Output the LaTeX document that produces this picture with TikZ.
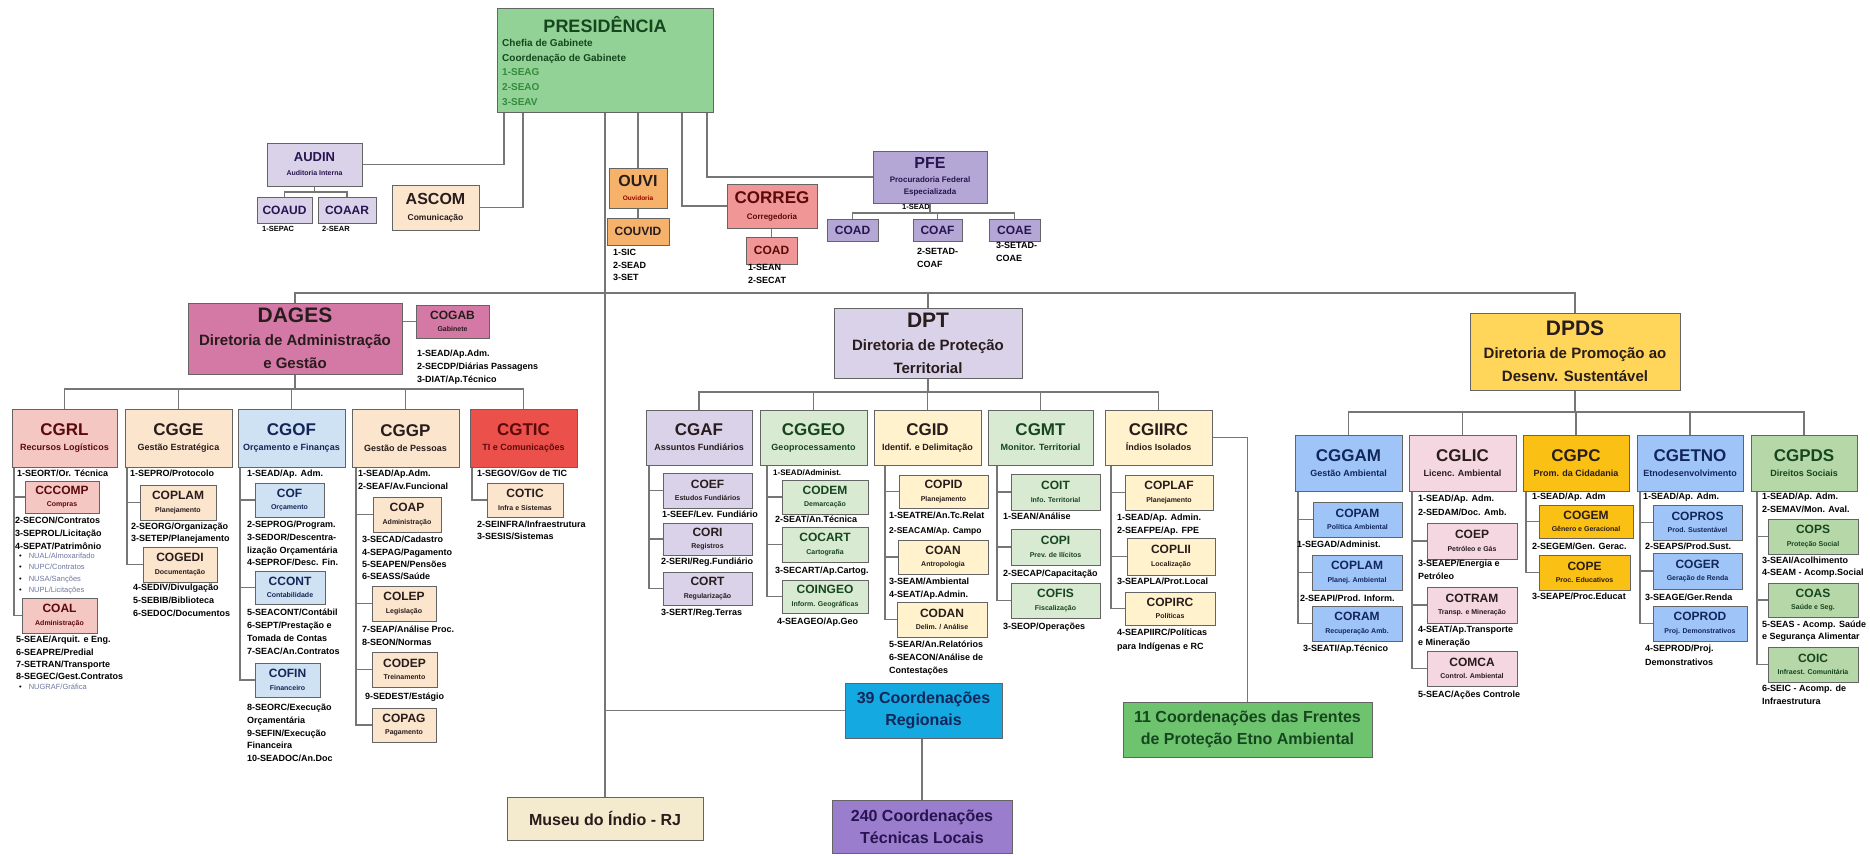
\documentclass[tikz,border=0pt]{standalone}
\usepackage{fontspec}
\setmainfont{Liberation Sans}
\usetikzlibrary{backgrounds}
\definecolor{ln}{RGB}{118,118,118}
\definecolor{bd}{RGB}{100,100,100}
\definecolor{fPres}{RGB}{147,210,150}
\definecolor{fLav}{RGB}{217,210,233}
\definecolor{fCream}{RGB}{252,229,205}
\definecolor{fOuvi}{RGB}{246,178,107}
\definecolor{fCorreg}{RGB}{240,150,150}
\definecolor{fPfe}{RGB}{180,167,214}
\definecolor{fDages}{RGB}{212,120,165}
\definecolor{fSalmon}{RGB}{244,199,195}
\definecolor{fLBlue}{RGB}{207,226,243}
\definecolor{fRed}{RGB}{236,80,75}
\definecolor{fLGreen}{RGB}{217,234,211}
\definecolor{fLYellow}{RGB}{255,242,204}
\definecolor{fDpds}{RGB}{255,214,90}
\definecolor{fBlue}{RGB}{159,197,248}
\definecolor{fPink}{RGB}{244,215,225}
\definecolor{fGold}{RGB}{250,192,20}
\definecolor{fGreen}{RGB}{182,215,168}
\definecolor{fMuseu}{RGB}{244,234,205}
\definecolor{fCtt}{RGB}{20,170,225}
\definecolor{fCtf}{RGB}{155,125,205}
\definecolor{fCel}{RGB}{110,195,110}
\definecolor{tDk}{RGB}{40,28,28}
\definecolor{tNv}{RGB}{18,38,90}
\definecolor{tGr}{RGB}{22,70,30}
\definecolor{pGr}{RGB}{50,140,60}
\definecolor{tRd}{RGB}{90,10,10}
\definecolor{tPu}{RGB}{40,20,80}
\definecolor{bul}{RGB}{110,120,160}
\newcommand\Tmid[1]{{\fontsize{17}{17}\selectfont #1}}
\newcommand\Tsm[1]{{\fontsize{12}{12}\selectfont #1}}
\newcommand\Tdir[1]{{\fontsize{21}{21}\selectfont #1}}
\newcommand\obox[7]{\node[#6,minimum width={(#4-#2)*1pt},minimum height={(#5-#3)*1pt}] (#1) at ({(#2+#4)/2},{(#3+#5)/2}) {#7};}
\newcommand\bl{{\color{black}•}\hspace{7pt}}
\begin{document}
\begin{tikzpicture}[x=1pt,y=-1pt,
  box/.style={draw=bd,line width=1pt,inner sep=0pt,align=center,text=tDk},
  L2/.style={box,font=\bfseries\fontsize{9}{15}\selectfont},
  L3/.style={box,font=\bfseries\fontsize{7}{12.5}\selectfont},
  DIR/.style={box,font=\bfseries\fontsize{15}{23}\selectfont},
  BOT/.style={box,font=\bfseries\fontsize{16}{22}\selectfont},
  lst/.style={anchor=north west,inner sep=0pt,align=left,font=\bfseries\fontsize{9}{12.7}\selectfont,text=black},
  con/.style={draw=ln,line width=1.5pt}]
\useasboundingbox (0,0) rectangle (1870,855);

\coordinate (pa) at (504,0);
\coordinate (pb) at (523,0);
\coordinate (pc) at (682,0);
\coordinate (pd) at (707,0);
\coordinate (ba) at (0,192);
\coordinate (bp) at (0,213);
\coordinate (bm) at (0,293);
\coordinate (bD) at (0,389);
\coordinate (bT) at (0,392);
\coordinate (bS) at (0,412);

% ---------- top ----------
\obox{pres}{497}{8}{713}{112}{box,fill=fPres}{}
\node[font=\bfseries\fontsize{18}{18}\selectfont,text=tGr,inner sep=0pt] (prest) at (605,25) {PRESIDÊNCIA};
\node[lst,font=\bfseries\fontsize{10}{14.7}\selectfont,text=tGr] (presl) at (502,39) {Chefia de Gabinete\\Coordenação de Gabinete\\{\color{pGr}1-SEAG}\\{\color{pGr}2-SEAO}\\{\color{pGr}3-SEAV}};

\obox{audin}{267}{143}{362}{186}{L3,fill=fLav,text=tPu,font=\bfseries\fontsize{7}{14}\selectfont}{{\fontsize{13}{13}\selectfont AUDIN}\\Auditoria Interna}
\obox{coaud}{257}{197}{312}{223}{L3,fill=fLav,text=tPu}{\Tsm{COAUD}}
\obox{coaar}{318}{197}{376}{223}{L3,fill=fLav,text=tPu}{\Tsm{COAAR}}
\node[lst,font=\bfseries\fontsize{7.5}{10}\selectfont] (laudA) at (262,226) {1-SEPAC};
\node[lst,font=\bfseries\fontsize{7.5}{10}\selectfont] (laudB) at (322,226) {2-SEAR};
\obox{ascom}{392}{185}{479}{230}{L3,fill=fCream,font=\bfseries\fontsize{8.5}{16}\selectfont}{{\fontsize{16}{16}\selectfont ASCOM}\\Comunicação}

\obox{ouvi}{609}{168}{667}{208}{L3,fill=fOuvi,font=\bfseries\fontsize{6.5}{14}\selectfont}{{\fontsize{16}{16}\selectfont OUVI}\\{\color{red!60!black}Ouvidoria}}
\obox{couvid}{607}{218}{669}{245}{L3,fill=fOuvi}{\Tsm{COUVID}}
\node[lst] (louvi) at (613,249) {1-SIC\\2-SEAD\\3-SET};

\obox{correg}{727}{184}{817}{228}{L3,fill=fCorreg,text=tRd,font=\bfseries\fontsize{8}{16}\selectfont}{{\fontsize{17}{17}\selectfont CORREG}\\Corregedoria}
\obox{coadc}{746}{237}{797}{264}{L3,fill=fCorreg,text=tRd}{\Tsm{COAD}}
\node[lst] (lcorreg) at (748,264) {1-SEAN\\2-SECAT};

\obox{pfe}{873}{151}{987}{203}{L3,fill=fPfe,text=tPu,font=\bfseries\fontsize{8}{12}\selectfont}{{\fontsize{16}{16}\selectfont PFE}\\[2pt]Procuradoria Federal\\Especializada}
\obox{coadp}{827}{219}{878}{241}{L3,fill=fPfe,text=tPu}{\Tsm{COAD}}
\obox{coafp}{913}{219}{962}{241}{L3,fill=fPfe,text=tPu}{\Tsm{COAF}}
\obox{coaep}{989}{219}{1040}{241}{L3,fill=fPfe,text=tPu}{\Tsm{COAE}}
\node[lst,font=\bfseries\fontsize{7.5}{10}\selectfont] (lpfe) at (902,204) {1-SEAD};
\node[lst] (lcoaf) at (917,248) {2-SETAD-\\COAF};
\node[lst] (lcoae) at (996,242) {3-SETAD-\\COAE};

% ---------- DAGES ----------
\obox{dages}{188}{303}{402}{374}{DIR,fill=fDages}{\Tdir{DAGES}\\Diretoria de Administração\\e Gestão}
\obox{cogab}{416}{305}{489}{338}{L3,fill=fDages}{\Tsm{COGAB}\\Gabinete}
\node[lst] (lcogab) at (417,350) {1-SEAD/Ap.Adm.\\2-SECDP/Diárias Passagens\\3-DIAT/Ap.Técnico};

\obox{cgrl}{12}{409}{117}{467}{L2,fill=fSalmon,text=tRd}{\Tmid{CGRL}\\Recursos Logísticos}
\obox{cgge}{125}{409}{232}{467}{L2,fill=fCream}{\Tmid{CGGE}\\Gestão Estratégica}
\obox{cgof}{238}{409}{345}{467}{L2,fill=fLBlue,text=tNv}{\Tmid{CGOF}\\Orçamento e Finanças}
\obox{cggp}{352}{409}{459}{467}{L2,fill=fCream}{\Tmid{CGGP}\\Gestão de Pessoas}
\obox{cgtic}{470}{409}{577}{467}{L2,fill=fRed,text=tRd}{\Tmid{CGTIC}\\TI e Comunicações}

\obox{cccomp}{25}{481}{99}{513}{L3,fill=fSalmon,text=tRd}{\Tsm{CCCOMP}\\Compras}
\obox{coal}{22}{598}{97}{633}{L3,fill=fSalmon,text=tRd}{\Tsm{COAL}\\Administração}
\node[lst] (lrlA) at (17,470) {1-SEORT/Or. Técnica};
\node[lst] (lrlB) at (15,517) {2-SECON/Contratos\\3-SEPROL/Licitação\\4-SEPAT/Patrimônio};
\node[lst,font=\fontsize{7.5}{11.3}\selectfont,text=bul] (lrlC) at (19,553) {\bl NUAL/Almoxarifado\\\bl NUPC/Contratos\\\bl NUSA/Sanções\\\bl NUPL/Licitações};
\node[lst,font=\bfseries\fontsize{9}{12.3}\selectfont] (lrlD) at (16,636) {5-SEAE/Arquit. e Eng.\\6-SEAPRE/Predial\\7-SETRAN/Transporte\\8-SEGEC/Gest.Contratos};
\node[lst,font=\fontsize{7.5}{11.3}\selectfont,text=bul] (lrlE) at (19,684) {\bl NUGRAF/Gráfica};

\obox{coplam}{140}{485}{216}{520}{L3,fill=fCream}{\Tsm{COPLAM}\\Planejamento}
\obox{cogedi}{143}{547}{217}{582}{L3,fill=fCream}{\Tsm{COGEDI}\\Documentação}
\node[lst] (lggA) at (130,470) {1-SEPRO/Protocolo};
\node[lst,font=\bfseries\fontsize{9}{12}\selectfont] (lggB) at (131,523) {2-SEORG/Organização\\3-SETEP/Planejamento};
\node[lst] (lggC) at (133,584) {4-SEDIV/Divulgação\\5-SEBIB/Biblioteca\\6-SEDOC/Documentos};

\obox{cof}{255}{483}{324}{517}{L3,fill=fLBlue,text=tNv}{\Tsm{COF}\\Orçamento}
\obox{ccont}{255}{571}{325}{604}{L3,fill=fLBlue,text=tNv}{\Tsm{CCONT}\\Contabilidade}
\obox{cofin}{255}{663}{320}{697}{L3,fill=fLBlue,text=tNv}{\Tsm{COFIN}\\Financeiro}
\node[lst] (lofA) at (247,470) {1-SEAD/Ap. Adm.};
\node[lst] (lofB) at (247,521) {2-SEPROG/Program.\\3-SEDOR/Descentra-\\lização Orçamentária\\4-SEPROF/Desc. Fin.};
\node[lst,font=\bfseries\fontsize{9}{13}\selectfont] (lofC) at (247,609) {5-SEACONT/Contábil\\6-SEPT/Prestação e\\Tomada de Contas\\7-SEAC/An.Contratos};
\node[lst] (lofD) at (247,704) {8-SEORC/Execução\\Orçamentária\\9-SEFIN/Execução\\Financeira\\10-SEADOC/An.Doc};

\obox{coap}{373}{497}{441}{532}{L3,fill=fCream}{\Tsm{COAP}\\Administração}
\obox{colep}{372}{586}{436}{621}{L3,fill=fCream}{\Tsm{COLEP}\\Legislação}
\obox{codep}{372}{652}{437}{687}{L3,fill=fCream}{\Tsm{CODEP}\\Treinamento}
\obox{copag}{372}{708}{436}{742}{L3,fill=fCream}{\Tsm{COPAG}\\Pagamento}
\node[lst,font=\bfseries\fontsize{9}{13}\selectfont] (lgpA) at (358,470) {1-SEAD/Ap.Adm.\\2-SEAF/Av.Funcional};
\node[lst,font=\bfseries\fontsize{9}{12.4}\selectfont] (lgpB) at (362,536) {3-SECAD/Cadastro\\4-SEPAG/Pagamento\\5-SEAPEN/Pensões\\6-SEASS/Saúde};
\node[lst,font=\bfseries\fontsize{9}{13}\selectfont] (lgpC) at (362,626) {7-SEAP/Análise Proc.\\8-SEON/Normas};
\node[lst] (lgpD) at (365,693) {9-SEDEST/Estágio};

\obox{cotic}{487}{483}{563}{517}{L3,fill=fCream}{\Tsm{COTIC}\\Infra e Sistemas}
\node[lst] (ltiA) at (477,470) {1-SEGOV/Gov de TIC};
\node[lst,font=\bfseries\fontsize{9}{12}\selectfont] (ltiB) at (477,521) {2-SEINFRA/Infraestrutura\\3-SESIS/Sistemas};

% ---------- DPT ----------
\obox{dpt}{834}{308}{1022}{378}{DIR,fill=fLav}{\Tdir{DPT}\\Diretoria de Proteção\\Territorial}
\obox{cgaf}{646}{410}{752}{465}{L2,fill=fLav}{\Tmid{CGAF}\\Assuntos Fundiários}
\obox{cggeo}{760}{410}{867}{465}{L2,fill=fLGreen,text=tGr}{\Tmid{CGGEO}\\Geoprocessamento}
\obox{cgid}{874}{410}{981}{465}{L2,fill=fLYellow}{\Tmid{CGID}\\Identif. e Delimitação}
\obox{cgmt}{988}{410}{1093}{465}{L2,fill=fLGreen,text=tGr}{\Tmid{CGMT}\\Monitor. Territorial}
\obox{cgiirc}{1105}{410}{1212}{465}{L2,fill=fLYellow}{\Tmid{CGIIRC}\\Índios Isolados}

\obox{coef}{663}{473}{752}{508}{L3,fill=fLav}{\Tsm{COEF}\\Estudos Fundiários}
\obox{cori}{663}{523}{752}{555}{L3,fill=fLav}{\Tsm{CORI}\\Registros}
\obox{cort}{663}{572}{752}{605}{L3,fill=fLav}{\Tsm{CORT}\\Regularização}
\node[lst] (lafA) at (662,511) {1-SEEF/Lev. Fundiário};
\node[lst] (lafB) at (661,558) {2-SERI/Reg.Fundiário};
\node[lst] (lafC) at (661,609) {3-SERT/Reg.Terras};

\obox{codem}{782}{480}{868}{514}{L3,fill=fLGreen,text=tGr}{\Tsm{CODEM}\\Demarcação}
\obox{cocart}{782}{527}{868}{562}{L3,fill=fLGreen,text=tGr}{\Tsm{COCART}\\Cartografia}
\obox{coingeo}{782}{580}{868}{613}{L3,fill=fLGreen,text=tGr}{\Tsm{COINGEO}\\Inform. Geográficas}
\node[lst,font=\bfseries\fontsize{8}{11}\selectfont] (lgeA) at (773,469) {1-SEAD/Administ.};
\node[lst] (lgeB) at (775,516) {2-SEAT/An.Técnica};
\node[lst] (lgeC) at (775,567) {3-SECART/Ap.Cartog.};
\node[lst] (lgeD) at (777,618) {4-SEAGEO/Ap.Geo};

\obox{copid}{899}{475}{988}{508}{L3,fill=fLYellow}{\Tsm{COPID}\\Planejamento}
\obox{coan}{898}{540}{988}{574}{L3,fill=fLYellow}{\Tsm{COAN}\\Antropologia}
\obox{codan}{897}{602}{987}{637}{L3,fill=fLYellow}{\Tsm{CODAN}\\Delim. / Análise}
\node[lst] (lidA) at (889,512) {1-SEATRE/An.Tc.Relat};
\node[lst,font=\bfseries\fontsize{8.5}{11}\selectfont] (lidB) at (889,527) {2-SEACAM/Ap. Campo};
\node[lst] (lidC) at (889,578) {3-SEAM/Ambiental\\4-SEAT/Ap.Admin.};
\node[lst] (lidD) at (889,641) {5-SEAR/An.Relatórios\\6-SEACON/Análise de\\Contestações};

\obox{coit}{1011}{474}{1100}{510}{L3,fill=fLGreen,text=tGr}{\Tsm{COIT}\\Info. Territorial}
\obox{copi}{1011}{529}{1100}{565}{L3,fill=fLGreen,text=tGr}{\Tsm{COPI}\\Prev. de Ilícitos}
\obox{cofis}{1011}{583}{1100}{618}{L3,fill=fLGreen,text=tGr}{\Tsm{COFIS}\\Fiscalização}
\node[lst] (lmtA) at (1003,513) {1-SEAN/Análise};
\node[lst] (lmtB) at (1003,570) {2-SECAP/Capacitação};
\node[lst] (lmtC) at (1003,623) {3-SEOP/Operações};

\obox{coplaf}{1125}{475}{1213}{510}{L3,fill=fLYellow}{\Tsm{COPLAF}\\Planejamento}
\obox{coplii}{1127}{538}{1215}{575}{L3,fill=fLYellow}{\Tsm{COPLII}\\Localização}
\obox{copirc}{1125}{592}{1215}{625}{L3,fill=fLYellow}{\Tsm{COPIRC}\\Políticas}
\node[lst] (liiA) at (1117,514) {1-SEAD/Ap. Admin.\\2-SEAFPE/Ap. FPE};
\node[lst] (liiB) at (1117,578) {3-SEAPLA/Prot.Local};
\node[lst,font=\bfseries\fontsize{9}{13.5}\selectfont] (liiC) at (1117,629) {4-SEAPIIRC/Políticas\\para Indígenas e RC};

% ---------- DPDS ----------
\obox{dpds}{1470}{313}{1680}{390}{DIR,fill=fDpds}{\Tdir{DPDS}\\Diretoria de Promoção ao\\Desenv. Sustentável}
\obox{cggam}{1295}{435}{1402}{491}{L2,fill=fBlue,text=tNv}{\Tmid{CGGAM}\\Gestão Ambiental}
\obox{cglic}{1409}{435}{1516}{491}{L2,fill=fPink}{\Tmid{CGLIC}\\Licenc. Ambiental}
\obox{cgpc}{1523}{435}{1629}{491}{L2,fill=fGold}{\Tmid{CGPC}\\Prom. da Cidadania}
\obox{cgetno}{1637}{435}{1743}{491}{L2,fill=fBlue,text=tNv}{\Tmid{CGETNO}\\Etnodesenvolvimento}
\obox{cgpds}{1751}{435}{1857}{491}{L2,fill=fGreen,text=tGr}{\Tmid{CGPDS}\\Direitos Sociais}

\obox{copam}{1313}{502}{1402}{537}{L3,fill=fBlue,text=tNv}{\Tsm{COPAM}\\Política Ambiental}
\obox{coplamb}{1312}{555}{1402}{590}{L3,fill=fBlue,text=tNv}{\Tsm{COPLAM}\\Planej. Ambiental}
\obox{coram}{1312}{606}{1402}{641}{L3,fill=fBlue,text=tNv}{\Tsm{CORAM}\\Recuperação Amb.}
\node[lst] (lgaA) at (1297,541) {1-SEGAD/Administ.};
\node[lst] (lgaB) at (1300,595) {2-SEAPI/Prod. Inform.};
\node[lst] (lgaC) at (1303,645) {3-SEATI/Ap.Técnico};

\obox{coep}{1427}{523}{1517}{559}{L3,fill=fPink}{\Tsm{COEP}\\Petróleo e Gás}
\obox{cotram}{1427}{587}{1517}{623}{L3,fill=fPink}{\Tsm{COTRAM}\\Transp. e Mineração}
\obox{comca}{1427}{651}{1517}{686}{L3,fill=fPink}{\Tsm{COMCA}\\Control. Ambiental}
\node[lst,font=\bfseries\fontsize{9}{13.5}\selectfont] (lliA) at (1418,495) {1-SEAD/Ap. Adm.\\2-SEDAM/Doc. Amb.};
\node[lst] (lliB) at (1418,560) {3-SEAEP/Energia e\\Petróleo};
\node[lst] (lliC) at (1418,626) {4-SEAT/Ap.Transporte\\e Mineração};
\node[lst] (lliD) at (1418,691) {5-SEAC/Ações Controle};

\obox{cogem}{1539}{505}{1633}{538}{L3,fill=fGold}{\Tsm{COGEM}\\Gênero e Geracional}
\obox{cope}{1539}{555}{1630}{590}{L3,fill=fGold}{\Tsm{COPE}\\Proc. Educativos}
\node[lst] (lpcA) at (1532,493) {1-SEAD/Ap. Adm};
\node[lst] (lpcB) at (1532,543) {2-SEGEM/Gen. Gerac.};
\node[lst] (lpcC) at (1532,593) {3-SEAPE/Proc.Educat};

\obox{copros}{1653}{505}{1742}{540}{L3,fill=fBlue,text=tNv}{\Tsm{COPROS}\\Prod. Sustentável}
\obox{coger}{1653}{553}{1742}{589}{L3,fill=fBlue,text=tNv}{\Tsm{COGER}\\Geração de Renda}
\obox{coprod}{1653}{606}{1747}{641}{L3,fill=fBlue,text=tNv}{\Tsm{COPROD}\\Proj. Demonstrativos}
\node[lst] (letA) at (1643,493) {1-SEAD/Ap. Adm.};
\node[lst] (letB) at (1645,543) {2-SEAPS/Prod.Sust.};
\node[lst] (letC) at (1645,594) {3-SEAGE/Ger.Renda};
\node[lst,font=\bfseries\fontsize{9}{14}\selectfont] (letD) at (1645,645) {4-SEPROD/Proj.\\Demonstrativos};

\obox{cops}{1768}{519}{1858}{554}{L3,fill=fGreen,text=tGr}{\Tsm{COPS}\\Proteção Social}
\obox{coas}{1768}{583}{1858}{617}{L3,fill=fGreen,text=tGr}{\Tsm{COAS}\\Saúde e Seg.}
\obox{coic}{1768}{647}{1858}{682}{L3,fill=fGreen,text=tGr}{\Tsm{COIC}\\Infraest. Comunitária}
\node[lst,font=\bfseries\fontsize{9}{13}\selectfont] (lpdA) at (1762,493) {1-SEAD/Ap. Adm.\\2-SEMAV/Mon. Aval.};
\node[lst,font=\bfseries\fontsize{9}{12}\selectfont] (lpdB) at (1762,557) {3-SEAI/Acolhimento\\4-SEAM - Acomp.Social};
\node[lst,font=\bfseries\fontsize{9}{12}\selectfont] (lpdC) at (1762,621) {5-SEAS - Acomp. Saúde\\e Segurança Alimentar};
\node[lst,font=\bfseries\fontsize{9}{13}\selectfont] (lpdD) at (1762,685) {6-SEIC - Acomp. de\\Infraestrutura};

% ---------- bottom ----------
\obox{museu}{507}{797}{703}{840}{BOT,fill=fMuseu}{Museu do Índio - RJ}
\obox{ctt}{845}{683}{1002}{738}{BOT,fill=fCtt,text=tNv}{39 Coordenações\\Regionais}
\obox{ctf}{832}{800}{1012}{853}{BOT,fill=fCtf,text=tPu}{240 Coordenações\\Técnicas Locais}
\obox{cel}{1123}{702}{1372}{757}{BOT,fill=fCel,text=tGr}{11 Coordenações das Frentes\\de Proteção Etno Ambiental}

% ---------- connectors (behind boxes) ----------
\coordinate (tA) at (14,0);
\coordinate (tB) at (127,0);
\coordinate (tC) at (240,0);
\coordinate (tD) at (356,0);
\coordinate (tE) at (472,0);
\coordinate (tF) at (649,0);
\coordinate (tG) at (767,0);
\coordinate (tH) at (885,0);
\coordinate (tI) at (997,0);
\coordinate (tJ) at (1111,0);
\coordinate (tK) at (1298,0);
\coordinate (tL) at (1412,0);
\coordinate (tM) at (1526,0);
\coordinate (tN) at (1640,0);
\coordinate (tO) at (1757,0);
\begin{scope}[on background layer]
\fill[white] (0,0) rectangle (1870,855);
\draw[con] (pres.south -| pa) |- (audin.east);
\draw[con] (pres.south -| pb) |- (ascom.east);
\draw[con] (pres.south -| ouvi.north) -- (ouvi.north);
\draw[con] (ouvi.south) -- (couvid.north);
\draw[con] (pres.south -| pc) |- (correg.west);
\draw[con] (coadc.north |- correg.south) -- (coadc.north);
\draw[con] (pres.south -| pd) |- (pfe.west);
\draw[con] (audin.south) -- (audin.south |- ba);
\draw[con] (coaud.north) |- (coaar.north |- ba) -- (coaar.north);
\draw[con] (pfe.south) -- (pfe.south |- bp);
\draw[con] (coadp.north) |- (coaep.north |- bp) -- (coaep.north);
\draw[con] (coafp.north) -- (coafp.north |- bp);
\draw[con] (pres.south -| museu.north) -- (museu.north);
\draw[con] (museu.north |- ctt.west) -- (ctt.west);
\draw[con] (ctf.north |- ctt.south) -- (ctf.north);
\draw[con] (cgiirc.east) -| (cel.north);
\draw[con] (dages.north) |- (dpds.north |- bm) -- (dpds.north);
\draw[con] (dpt.north) -- (dpt.north |- bm);
\draw[con] (dages.east |- cogab.west) -- (cogab.west);
\draw[con] (dages.south) -- (dages.south |- bD);
\draw[con] (cgrl.north) |- (cgtic.north |- bD) -- (cgtic.north);
\foreach \c in {cgge,cgof,cggp} \draw[con] (\c.north) -- (\c.north |- bD);
\draw[con] (dpt.south) -- (dpt.south |- bT);
\draw[con] (cgaf.north) |- (cgiirc.north |- bT) -- (cgiirc.north);
\foreach \c in {cggeo,cgid,cgmt} \draw[con] (\c.north) -- (\c.north |- bT);
\draw[con] (dpds.south) -- (dpds.south |- bS);
\draw[con] (cggam.north) |- (cgpds.north |- bS) -- (cgpds.north);
\foreach \c in {cglic,cgpc,cgetno} \draw[con] (\c.north) -- (\c.north |- bS);
\foreach \c in {cccomp,coal} \draw[con] (cgrl.south -| tA) |- (\c.west);
\foreach \c in {coplam,cogedi} \draw[con] (cgge.south -| tB) |- (\c.west);
\foreach \c in {cof,ccont,cofin} \draw[con] (cgof.south -| tC) |- (\c.west);
\foreach \c in {coap,colep,codep,copag} \draw[con] (cggp.south -| tD) |- (\c.west);
\draw[con] (cgtic.south -| tE) |- (cotic.west);
\foreach \c in {coef,cori,cort} \draw[con] (cgaf.south -| tF) |- (\c.west);
\foreach \c in {codem,cocart,coingeo} \draw[con] (cggeo.south -| tG) |- (\c.west);
\foreach \c in {copid,coan,codan} \draw[con] (cgid.south -| tH) |- (\c.west);
\foreach \c in {coit,copi,cofis} \draw[con] (cgmt.south -| tI) |- (\c.west);
\foreach \c in {coplaf,coplii,copirc} \draw[con] (cgiirc.south -| tJ) |- (\c.west);
\foreach \c in {copam,coplamb,coram} \draw[con] (cggam.south -| tK) |- (\c.west);
\foreach \c in {coep,cotram,comca} \draw[con] (cglic.south -| tL) |- (\c.west);
\foreach \c in {cogem,cope} \draw[con] (cgpc.south -| tM) |- (\c.west);
\foreach \c in {copros,coger,coprod} \draw[con] (cgetno.south -| tN) |- (\c.west);
\foreach \c in {cops,coas,coic} \draw[con] (cgpds.south -| tO) |- (\c.west);
\end{scope}
\end{tikzpicture}
\end{document}
